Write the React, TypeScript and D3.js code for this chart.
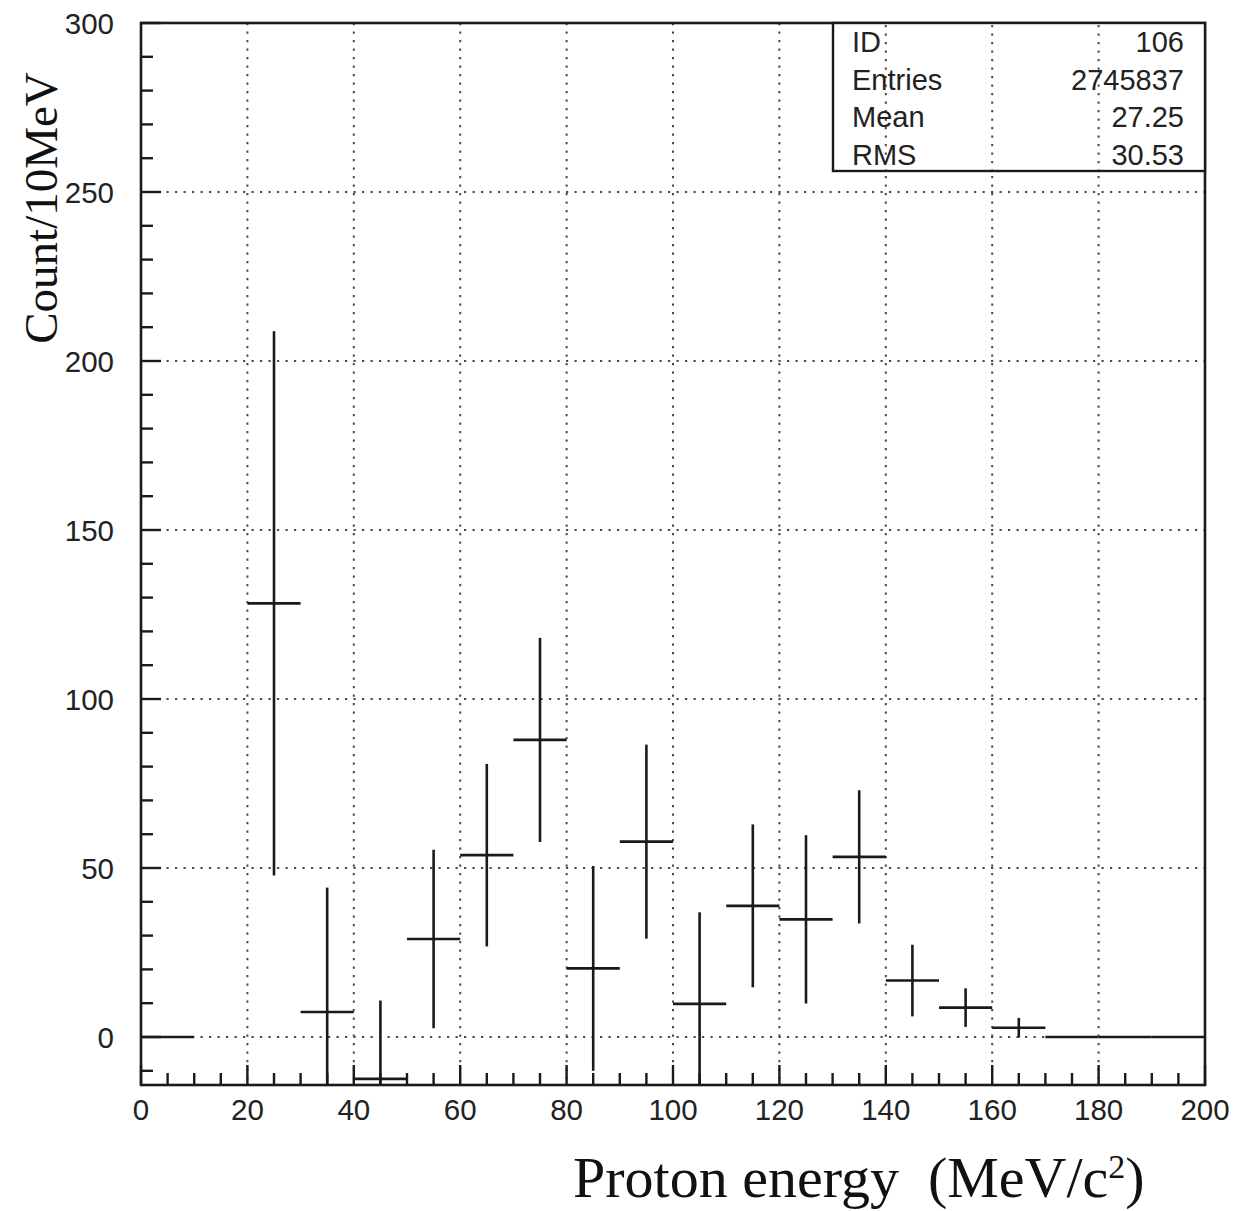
import React from "react";
import * as d3 from "d3";

// ---- data ----
const binCenters = [5, 15, 25, 35, 45, 55, 65, 75, 85, 95, 105, 115, 125, 135, 145, 155, 165, 175, 185, 195];
const counts: (number | null)[] = [0, null, 128.3, 7.4, -12.4, 29.0, 53.8, 87.9, 20.3, 57.8, 9.8, 38.8, 34.8, 53.3, 16.7, 8.7, 2.75, 0, 0, 0];
const errors: (number | null)[] = [0, null, 80.5, 36.8, 23.2, 26.4, 27.0, 30.2, 30.3, 28.7, 27.1, 24.1, 24.9, 19.7, 10.6, 5.7, 2.9, 0, 0, 0];
const binWidth = 10;

const xMajorTicks = [0, 20, 40, 60, 80, 100, 120, 140, 160, 180, 200];
const yMajorTicks = [0, 50, 100, 150, 200, 250, 300];

const statLabels = ["ID", "Entries", "Mean", "RMS"];
const statValues = ["106", "2745837", "27.25", "30.53"];

const xTitle = "Proton energy\u00a0\u00a0(MeV/c";
const yTitle = "Count/10MeV";

export default function App() {
  const W = 1246, H = 1211;
  const left = 141, right = 1205, top = 23, bottom = 1085;
  const x = d3.scaleLinear().domain([0, 200]).range([left, right]);
  const y = d3.scaleLinear().domain([-14.2, 300]).range([bottom, top]);

  const xMinor = d3.range(0, 201, 5).filter((v) => v % 20 !== 0);
  const yMinor = d3.range(-10, 301, 10).filter((v) => v % 50 !== 0);

  const sans = "'Liberation Sans', Arial, Helvetica, sans-serif";
  const serif = "'Liberation Serif', 'Times New Roman', serif";
  const ink = "#1a1a1a";

  const grid = "#4a4a4a";
  const dash = "2.2 6.3";

  return (
    <svg width={W} height={H} style={{ position: "absolute", left: 0, top: 0, background: "#fff" }}>
      <defs>
        <clipPath id="plotClip">
          <rect x={left} y={top} width={right - left} height={bottom - top} />
        </clipPath>
      </defs>
      <rect x={0} y={0} width={W} height={H} fill="#fff" />

      {/* grid */}
      <g stroke={grid} strokeWidth={2} strokeDasharray={dash}>
        {xMajorTicks.filter((v) => v > 0 && v < 200).map((v) => (
          <line key={"gx" + v} x1={x(v)} x2={x(v)} y1={top} y2={bottom} />
        ))}
        {yMajorTicks.filter((v) => v < 300).map((v) => (
          <line key={"gy" + v} x1={left} x2={right} y1={y(v)} y2={y(v)} />
        ))}
      </g>

      {/* data: histogram with error bars */}
      <g clipPath="url(#plotClip)" stroke={ink} strokeWidth={2.6}>
        {binCenters.map((c, i) => {
          const v = counts[i];
          const e = errors[i];
          if (v === null || e === null) return null;
          return (
            <g key={"b" + i}>
              <line x1={x(c - binWidth / 2)} x2={x(c + binWidth / 2)} y1={y(v)} y2={y(v)} />
              {e > 0 && <line x1={x(c)} x2={x(c)} y1={y(v - e)} y2={y(v + e)} />}
            </g>
          );
        })}
      </g>

      {/* ticks */}
      <g stroke={ink} strokeWidth={2.4}>
        {xMajorTicks.map((v) => (
          <line key={"tx" + v} x1={x(v)} x2={x(v)} y1={bottom} y2={bottom - 20} />
        ))}
        {xMinor.map((v) => (
          <line key={"tmx" + v} x1={x(v)} x2={x(v)} y1={bottom} y2={bottom - 12} />
        ))}
        {yMajorTicks.map((v) => (
          <line key={"ty" + v} x1={left} x2={left + 20} y1={y(v)} y2={y(v)} />
        ))}
        {yMinor.map((v) => (
          <line key={"tmy" + v} x1={left} x2={left + 12} y1={y(v)} y2={y(v)} />
        ))}
      </g>

      {/* frame */}
      <rect x={left} y={top} width={right - left} height={bottom - top} fill="none" stroke={ink} strokeWidth={2.6} />

      {/* tick labels */}
      <g fontFamily={sans} fontSize={29.5} fill="#222">
        {xMajorTicks.map((v) => (
          <text key={"lx" + v} x={x(v)} y={bottom + 35} textAnchor="middle">{v}</text>
        ))}
        {yMajorTicks.map((v) => (
          <text key={"ly" + v} x={114} y={y(v) + 11} textAnchor="end">{v}</text>
        ))}
      </g>

      {/* stats box */}
      <rect x={833} y={top} width={right - 833} height={171 - top} fill="#fff" stroke={ink} strokeWidth={2.4} />
      <g stroke={grid} strokeWidth={2} strokeDasharray={dash}>
        {xMajorTicks.filter((v) => x(v) > 833 && v < 200).map((v) => (
          <line key={"sgx" + v} x1={x(v)} x2={x(v)} y1={top + 2} y2={170} />
        ))}
      </g>
      <g fontFamily={sans} fontSize={29} fill="#222">
        {statLabels.map((s, i) => (
          <text key={"sl" + i} x={852} y={52 + i * 37.5}>{s}</text>
        ))}
        {statValues.map((s, i) => (
          <text key={"sv" + i} x={1184} y={52 + i * 37.5} textAnchor="end">{s}</text>
        ))}
      </g>

      {/* axis titles */}
      <text x={573} y={1197} fontFamily={serif} fontSize={58} fill="#111">
        {xTitle}
        <tspan fontSize={34} dy={-19}>2</tspan>
        <tspan dy={19}>)</tspan>
      </text>
      <text
        transform={`translate(57, 208) rotate(-90)`}
        textAnchor="middle"
        fontFamily={serif}
        fontSize={47}
        fill="#111"
      >
        {yTitle}
      </text>
    </svg>
  );
}
